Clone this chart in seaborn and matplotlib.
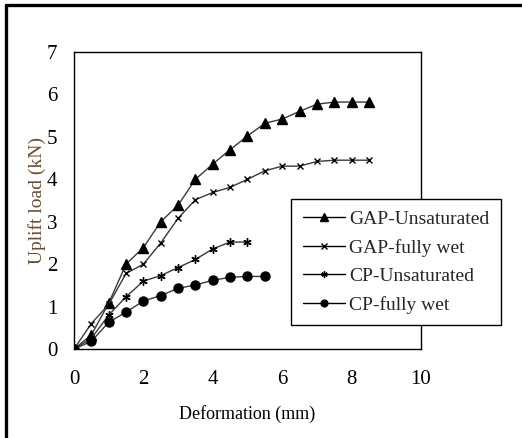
import matplotlib
matplotlib.use("Agg")
import matplotlib.pyplot as plt
import seaborn as sns
import pandas as pd
from matplotlib.lines import Line2D

sns.set_theme(style="white")
plt.rcParams['font.family'] = ['Liberation Serif', 'DejaVu Serif']

x_gap = [0, 0.5, 1, 1.5, 2, 2.5, 3, 3.5, 4, 4.5, 5, 5.5, 6, 6.5, 7, 7.5, 8, 8.5]
gap_unsat = [0, 0.33, 1.08, 2.0, 2.39, 3.0, 3.39, 4.0, 4.36, 4.7, 5.02, 5.32, 5.42, 5.6, 5.77, 5.82, 5.82, 5.82]
gap_wet = [0, 0.6, 1.05, 1.78, 2.0, 2.5, 3.08, 3.52, 3.69, 3.81, 4.0, 4.2, 4.31, 4.31, 4.42, 4.45, 4.45, 4.45]
x_cp_unsat = [0, 0.5, 1, 1.5, 2, 2.5, 3, 3.5, 4, 4.5, 5]
cp_unsat = [0, 0.25, 0.8, 1.23, 1.6, 1.73, 1.92, 2.11, 2.36, 2.52, 2.52]
x_cp_wet = [0, 0.5, 1, 1.5, 2, 2.5, 3, 3.5, 4, 4.5, 5, 5.5]
cp_wet = [0, 0.18, 0.63, 0.87, 1.13, 1.26, 1.43, 1.51, 1.62, 1.69, 1.71, 1.71]

series_names = ["GAP-Unsaturated", "GAP-fully wet", "CP-Unsaturated", "CP-fully wet"]
series = [(x_gap, gap_unsat), (x_gap, gap_wet), (x_cp_unsat, cp_unsat), (x_cp_wet, cp_wet)]
markers = ["^", "x", (6, 2, 0), "o"]
msizes = [7, 5, 6, 6.5]

W, H = 522, 438
fig = plt.figure(figsize=(W / 100, H / 100), dpi=100)
ax = fig.add_axes([74 / W, 1 - 349 / H, (421 - 74) / W, (349 - 52) / H])

for name, (xs, ys), m, ms in zip(series_names, series, markers, msizes):
    df = pd.DataFrame({"x": xs, "y": ys})
    sns.lineplot(data=df, x="x", y="y", ax=ax, color="#3a3a3a", linewidth=1.0,
                 marker=m, markersize=ms, markerfacecolor="black",
                 markeredgecolor="black", markeredgewidth=1.0, label=name, legend=False)

ax.set_xlim(0, 10)
ax.set_ylim(0, 7)
ax.set_xticks([0, 2, 4, 6, 8, 10])
ax.set_yticks(range(0, 8))
ax.tick_params(axis="both", which="major", direction="out", length=5, width=1,
               color="black", labelsize=15, labelcolor="black")
ax.tick_params(axis="x", pad=10)
ax.tick_params(axis="y", pad=7)
for s in ax.spines.values():
    s.set_color("black")
    s.set_linewidth(1.0)
    s.set_visible(True)

ax.set_xlabel("Deformation (mm)", fontsize=13, color="black", labelpad=12)
ax.set_ylabel("Uplift load (kN)", fontsize=14, color="#6e4a2c", labelpad=0.5)

handles = [Line2D([0], [0], color="black", linewidth=1.0, marker=m, markersize=ms * 0.75,
                  markerfacecolor="black", markeredgecolor="black")
           for m, ms in zip(markers, msizes)]
leg = fig.legend(handles, series_names, loc="upper left",
                 bbox_to_anchor=(291 / W, 1 - 199 / H), bbox_transform=fig.transFigure,
                 fontsize=14, frameon=True, fancybox=False, framealpha=1,
                 edgecolor="black", handlelength=2.2, handletextpad=0.2,
                 borderpad=0.6, labelspacing=0.55, borderaxespad=0)
leg.get_frame().set_linewidth(1.0)

# outer frame lines (top and left)
fig.add_artist(Line2D([6 / W, 1], [1 - 5 / H, 1 - 5 / H], transform=fig.transFigure,
                      color="black", linewidth=2.4))
fig.add_artist(Line2D([6 / W, 6 / W], [0, 1 - 5 / H], transform=fig.transFigure,
                      color="black", linewidth=2.4))

fig.savefig("out.png", dpi=100)
